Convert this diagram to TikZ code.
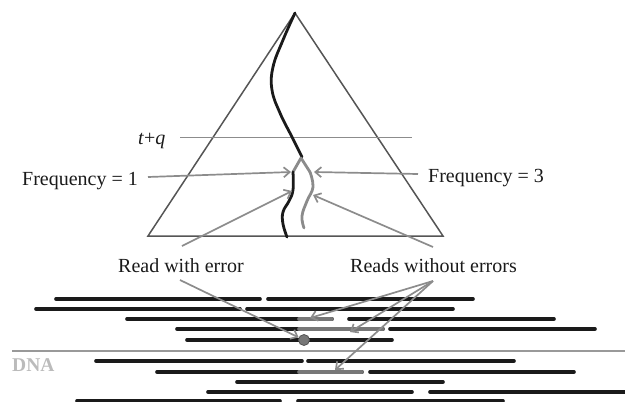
\documentclass[tikz,border=0pt]{standalone}
\usepackage{fontspec}
\setmainfont{Liberation Serif}
\usetikzlibrary{arrows.meta}
\definecolor{tri}{HTML}{555555}
\definecolor{arr}{HTML}{8C8C8C}
\definecolor{seg}{HTML}{777777}
\definecolor{dnac}{HTML}{BBBBBB}
\definecolor{ink}{HTML}{1A1A1A}
\definecolor{dline}{HTML}{999999}
\tikzset{
  lbl/.style={font=\fontsize{20}{22}\selectfont, inner sep=0pt, text=ink},
  tri/.style={draw=tri, line width=1.5pt, line join=miter},
  level/.style={draw=arr, line width=1pt},
  lineage/.style={draw=ink, line width=2.8pt, line cap=round},
  errlineage/.style={draw=seg!85, line width=2.8pt, line cap=round, line join=round},
  pointer/.style={draw=arr, line width=1.7pt, -{Straight Barb[length=6pt, width=10pt, line width=1.7pt]}},
  read/.style={draw=ink, line width=3.6pt, line cap=round},
  goodpart/.style={draw=seg, line width=3.6pt, line cap=round},
  dnaline/.style={draw=dline, line width=1.3pt},
}
\begin{document}
\begin{tikzpicture}[x=1pt, y=-1pt]
\useasboundingbox (0,0) rectangle (625,402);

% triangle (genealogy)
\coordinate (apex) at (295,13);
\coordinate (bl) at (148,236);
\coordinate (br) at (443,236);
\draw[tri] (apex) -- (br) -- (bl) -- cycle;

% level t+q
\coordinate (lvA) at (180,137);
\coordinate (lvB) at (412,137);
\draw[level] (lvA) -- (lvB);
\node[lbl, anchor=base west] (tq) at (138,144) {\textit{t}+\textit{q}};

% lineages
\draw[lineage] plot[smooth, tension=0.7] coordinates {(295,13) (283,40) (273,67) (272,90) (280,113) (292,137) (302,157)};
\draw[errlineage] (293,172) -- (301,158) -- (310,172);
\draw[errlineage] plot[smooth, tension=0.7] coordinates {(310,172) (313,187) (307,201) (302,216) (304,228)};
\draw[lineage] plot[smooth, tension=0.7] coordinates {(293,172) (293,190) (289,201) (283,212) (283,224) (287,237)};

% labels
\node[lbl, anchor=base west] (f1) at (22,185) {Frequency = 1};
\node[lbl, anchor=base west] (f3) at (428,182) {Frequency = 3};
\node[lbl, anchor=base west] (rwe) at (118,272) {Read with error};
\node[lbl, anchor=base west] (rwo) at (350,272) {Reads without errors};

% arrow ends in the tree
\coordinate (f1s) at (148,177);
\coordinate (f1t) at (291,172);
\coordinate (f3s) at (418,174);
\coordinate (f3t) at (314,172);
\coordinate (rwes) at (182,246);
\coordinate (rwet) at (292,191);
\coordinate (rwos) at (433,247);
\coordinate (rwot) at (313,195);

% reads
\foreach \y/\a/\b in {299/56/260, 299/268/473, 309/36/240, 309/247/453,
  319/127/332, 319/349/554, 329/177/383, 329/390/595, 340/187/392,
  361/96/302, 361/308/514, 372/157/362, 372/370/574, 382/237/443,
  392/208/412, 392/430/640, 401/77/280, 401/298/503}
  \draw[read] (\a,\y) -- (\b,\y);
\foreach \y/\b in {319/332, 329/383, 372/362}
  \draw[goodpart] (299,\y) -- (\b,\y);

% DNA
\draw[dnaline] (12,351) -- (625,351);
\node[lbl, anchor=base west, text=dnac, font=\fontsize{19.5}{22}\selectfont\bfseries] (dna) at (12,371) {DNA};

% error dot
\node[circle, fill=seg, draw=tri, line width=0.8pt, inner sep=0pt, minimum size=11pt] (err) at (304,340) {};

% arrows
\draw[pointer] (f1s) -- (f1t);
\draw[pointer] (f3s) -- (f3t);
\draw[pointer] (rwes) -- (rwet);
\draw[pointer] (rwos) -- (rwot);

\coordinate (rwed) at (180,280);
\draw[pointer] (rwed) -- (err);
\coordinate (rwod) at (433,281);
\coordinate (g1) at (310,318);
\coordinate (g2) at (350,332);
\coordinate (g3) at (335,370);
\draw[pointer] (rwod) -- (g1);
\draw[pointer] (rwod) -- (g2);
\draw[pointer] (rwod) -- (g3);
\end{tikzpicture}
\end{document}
